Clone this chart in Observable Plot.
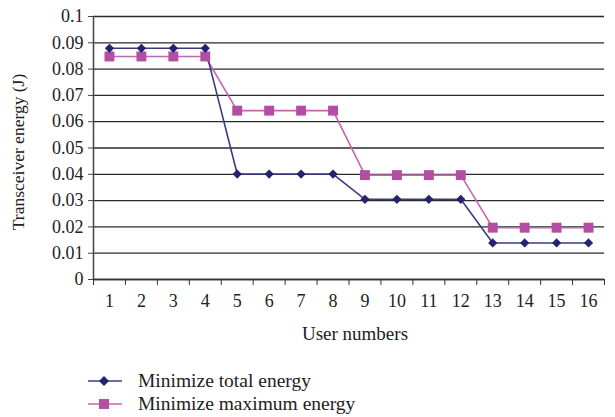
<!DOCTYPE html>
<html>
<head>
<meta charset="utf-8">
<script src="https://cdn.jsdelivr.net/npm/d3@7"></script>
<script src="https://cdn.jsdelivr.net/npm/@observablehq/plot@0.6"></script>
<style>
  body { margin: 0; background: #fff; font-family: "Liberation Serif", "Times New Roman", "DejaVu Serif", serif; }
  #chart svg { display: block; }
  .legend { position: relative; height: 57px; font-size: 19.5px; color: #222; }
  .legend .row { position: absolute; left: 86px; display: flex; align-items: center; }
  .legend .row span { margin-left: 14px; }
</style>
</head>
<body>
<div id="chart"></div>
<div class="legend" id="legend"></div>
<script>
// Users 1..16 and the transceiver energy (J) under the two optimisation goals
const users = [1, 2, 3, 4, 5, 6, 7, 8, 9, 10, 11, 12, 13, 14, 15, 16];
const totalEnergy = [0.0879, 0.0879, 0.0879, 0.0879, 0.0401, 0.0401, 0.0401, 0.0401,
                     0.0305, 0.0305, 0.0305, 0.0305, 0.0139, 0.0139, 0.0139, 0.0139];
const maxEnergy = [0.0848, 0.0848, 0.0848, 0.0848, 0.0642, 0.0642, 0.0642, 0.0642,
                   0.0397, 0.0397, 0.0397, 0.0397, 0.0197, 0.0197, 0.0197, 0.0197];
const seriesNames = ["Minimize total energy", "Minimize maximum energy"];
const yTicks = [0, 0.01, 0.02, 0.03, 0.04, 0.05, 0.06, 0.07, 0.08, 0.09, 0.1];
const yTickLabels = ["0", "0.01", "0.02", "0.03", "0.04", "0.05", "0.06", "0.07", "0.08", "0.09", "0.1"];
const xBoundaries = d3.range(0.5, 17, 1); // category separators for tick marks

const serif = "'Liberation Serif', 'Times New Roman', 'DejaVu Serif', serif";
const colors = {total: "#23236e", max: "#b44ea2"};
const lineColors = {total: "#3c3c82", max: "#c266b2"};

const totalRows = users.map((u, i) => ({user: u, energy: totalEnergy[i]}));
const maxRows = users.map((u, i) => ({user: u, energy: maxEnergy[i]}));

const diamond = {
  draw(context, size) {
    const r = Math.sqrt(size) / 2;
    context.moveTo(0, -r); context.lineTo(r, 0); context.lineTo(0, r); context.lineTo(-r, 0); context.closePath();
  }
};

const chart = Plot.plot({
  width: 615,
  height: 360,
  marginTop: 16,
  marginLeft: 93,
  marginRight: 11,
  marginBottom: 81,
  style: {fontFamily: serif, fontSize: "18px", color: "#222", background: "#fff"},
  x: {domain: [0.5, 16.5]},
  y: {domain: [0, 0.1]},
  marks: [
    Plot.gridY(yTicks, {stroke: "#2a2a2a", strokeOpacity: 1, strokeWidth: 1.3}),
    Plot.axisY(yTicks, {tickSize: 5, tickPadding: 5, tickFormat: (d, i) => yTickLabels[i], stroke: "#444", fontSize: 18, label: null}),
    Plot.axisX(xBoundaries, {tickSize: 6, tickFormat: () => "", stroke: "#333", label: null}),
    Plot.axisX(users, {tickSize: 0, tickPadding: 15, fontSize: 18, label: null}),
    Plot.ruleX([0.5], {stroke: "#444", strokeWidth: 1.5}),
    Plot.ruleY([0], {stroke: "#333", strokeWidth: 1.5}),
    Plot.line(maxRows, {x: "user", y: "energy", stroke: lineColors.max, strokeWidth: 1.6}),
    Plot.line(totalRows, {x: "user", y: "energy", stroke: lineColors.total, strokeWidth: 1.6}),
    Plot.dot(maxRows, {x: "user", y: "energy", symbol: "square", r: 5.6, fill: colors.max, stroke: "none"}),
    Plot.dot(totalRows, {x: "user", y: "energy", symbol: diamond, r: 5.2, fill: colors.total, stroke: "none"}),
    Plot.text(["Transceiver energy (J)"], {frameAnchor: "left", textAnchor: "middle", dx: -75, dy: 4, rotate: -90, fontSize: 17.5, fill: "#222"}),
    Plot.text(["User numbers"], {frameAnchor: "bottom", textAnchor: "middle", dx: 6, dy: 60, fontSize: 19, fill: "#222"})
  ]
});
document.getElementById("chart").appendChild(chart);

// Legend rows below the chart
const legend = document.getElementById("legend");
const swatches = [
  {name: seriesNames[0], line: lineColors.total, fill: colors.total, shape: "diamond", top: 10},
  {name: seriesNames[1], line: lineColors.max, fill: colors.max, shape: "square", top: 33}
];
swatches.forEach(s => {
  const row = document.createElement("div");
  row.className = "row";
  row.style.top = s.top + "px";
  const mark = s.shape === "diamond"
    ? `<path d="M18,6 L23,11 L18,16 L13,11 Z" fill="${s.fill}"/>`
    : `<rect x="13" y="6" width="10" height="10" fill="${s.fill}"/>`;
  row.innerHTML = `<svg width="38" height="22"><line x1="2" x2="36" y1="11" y2="11" stroke="${s.line}" stroke-width="1.6"/>${mark}</svg><span>${s.name}</span>`;
  legend.appendChild(row);
});
</script>
</body>
</html>
